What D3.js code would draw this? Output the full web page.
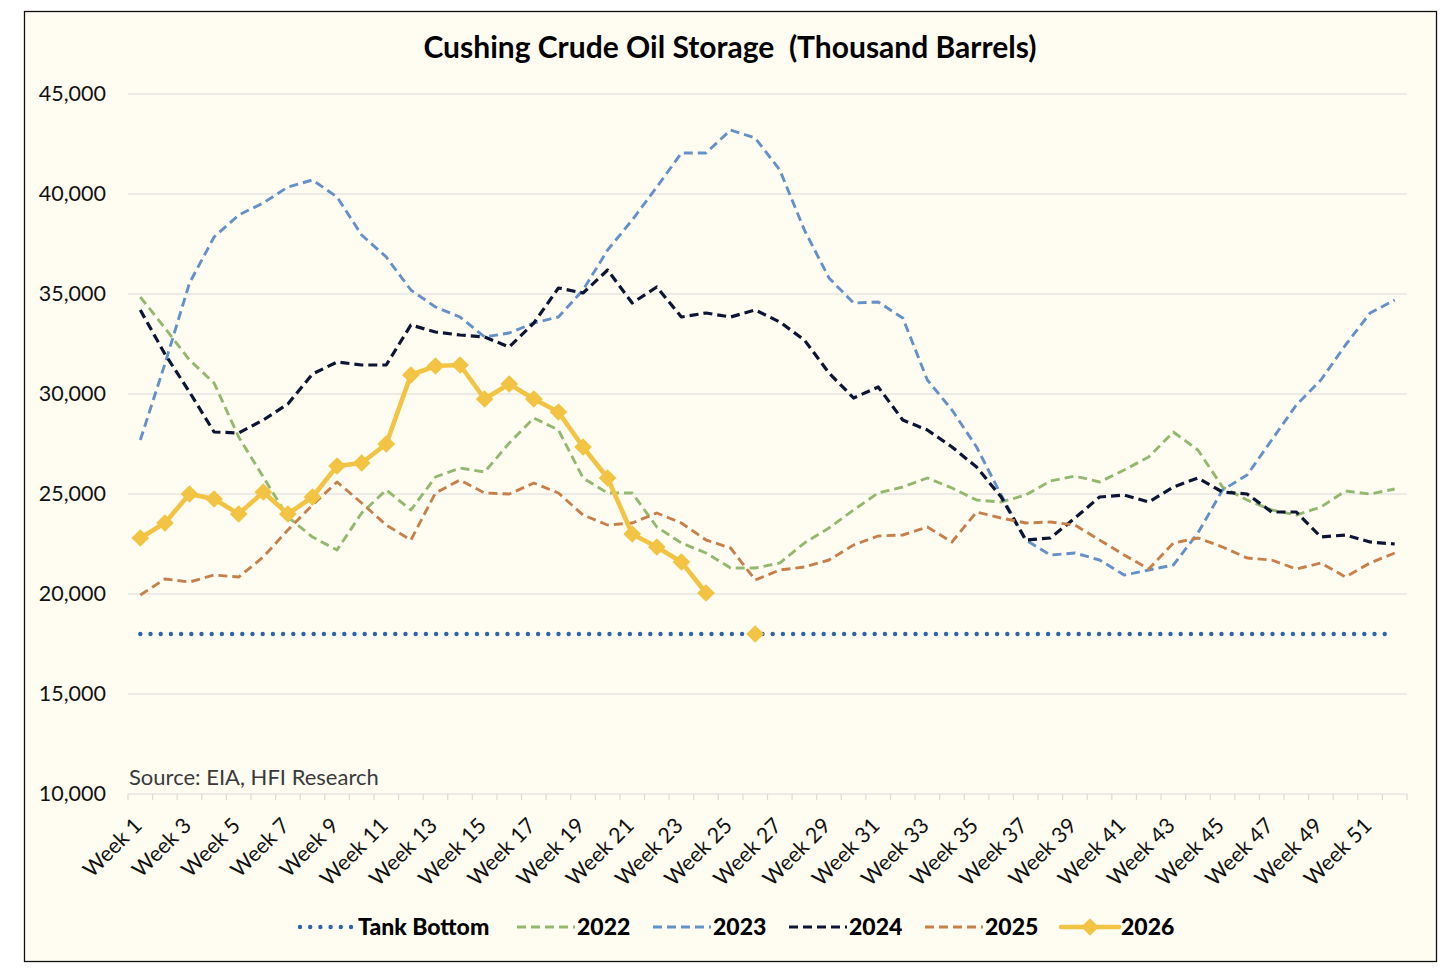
<!DOCTYPE html>
<meta charset="utf-8">
<style>
body { margin: 0; background: #fff; }
text { font-family: Lato, "Open Sans", sans-serif; }
</style>
<svg width="1456" height="978"></svg>
<script src="https://d3js.org/d3.v7.min.js"></script>
<script>

var weeks = d3.range(1, 53).map(function(w){ return "Week " + w; });

var tankBottom = weeks.map(function(){ return 18000; });

var s2022 = [34850, 33300, 31700, 30550, 27850, 25850, 23850, 22850, 22200, 24050,
             25200, 24200, 25850, 26300, 26100, 27550, 28800, 28200, 25800, 25050,
             25050, 23350, 22550, 22050, 21300, 21300, 21550, 22550, 23300, 24200,
             25050, 25350, 25800, 25300, 24700, 24600, 24950, 25650, 25900, 25600,
             26200, 26850, 28100, 27200, 25350, 24700, 24200, 23950, 24350, 25150,
             25000, 25250];

var s2023 = [27700, 31500, 35550, 37850, 38950, 39550, 40350, 40700, 39850, 37950,
             36850, 35200, 34350, 33850, 32850, 33050, 33550, 33850, 35200, 37200,
             38700, 40350, 42050, 42050, 43200, 42800, 41200, 38200, 35800, 34550,
             34600, 33800, 30700, 29200, 27350, 24950, 22700, 21950, 22050, 21700,
             20950, 21200, 21450, 23050, 25200, 25950, 27700, 29450, 30700, 32450,
             34050, 34700];

var s2024 = [34200, 32000, 30100, 28100, 28050, 28700, 29500, 31000, 31600, 31450,
             31450, 33450, 33100, 32950, 32850, 32350, 33550, 35300, 35050, 36200,
             34550, 35350, 33850, 34050, 33850, 34200, 33600, 32700, 31050, 29800,
             30350, 28700, 28200, 27350, 26350, 24850, 22700, 22800, 23800, 24850,
             24950, 24600, 25350, 25800, 25100, 25000, 24100, 24100, 22850, 22950,
             22600, 22500];

var s2025 = [19950, 20750, 20600, 20950, 20850, 21850, 23200, 24450, 25600, 24550,
             23450, 22700, 25050, 25700, 25050, 25000, 25550, 25050, 23950, 23450,
             23550, 24050, 23550, 22700, 22300, 20700, 21200, 21350, 21700, 22450,
             22900, 22950, 23350, 22600, 24100, 23800, 23550, 23600, 23450, 22700,
             21950, 21250, 22550, 22800, 22350, 21800, 21700, 21250, 21550, 20850,
             21550, 22050];

var s2026 = [22800, 23550, 25000, 24750, 24000, 25100, 24000, 24850, 26400, 26550,
             27500, 30950, 31400, 31450, 29750, 30500, 29750, 29100, 27350, 25800,
             23000, 22350, 21600, 20050, null, 18000];

var yTicks = [10000, 15000, 20000, 25000, 30000, 35000, 40000, 45000];

var seriesList = [
  {name: "Tank Bottom", values: tankBottom, color: "#2F64AA", width: 4.4, dash: "0 10.2", cap: "round"},
  {name: "2022", values: s2022, color: "#93B96F", width: 2.9, dash: "9 5", cap: "butt"},
  {name: "2023", values: s2023, color: "#6491C7", width: 2.9, dash: "9 5", cap: "butt"},
  {name: "2024", values: s2024, color: "#0C1634", width: 3.2, dash: "9 5", cap: "butt"},
  {name: "2025", values: s2025, color: "#C8804B", width: 2.9, dash: "9 5", cap: "butt"},
  {name: "2026", values: s2026, color: "#F3C443", width: 4.6, dash: null, cap: "round", marker: true}
];

var svg = d3.select("svg");

// frame
svg.append("rect")
  .attr("x", 24.5).attr("y", 11.5)
  .attr("width", 1412).attr("height", 950)
  .attr("fill", "#FFFDF2")
  .attr("stroke", "#111").attr("stroke-width", 1.3);

var plot = {left: 128, right: 1407, top: 94, bottom: 794};

var x = d3.scaleBand().domain(weeks).range([plot.left, plot.right]).padding(0);
var y = d3.scaleLinear().domain([10000, 45000]).range([plot.bottom, plot.top]);
function cx(i){ return x(weeks[i]) + x.bandwidth() / 2; }

// title
svg.append("text")
  .attr("x", 730).attr("y", 58)
  .attr("text-anchor", "middle")
  .style("font-size", "30px").style("font-weight", "bold")
  .attr("fill", "#000")
  .attr("xml:space", "preserve")
  .text("Cushing Crude Oil Storage  (Thousand Barrels)");

// gridlines
svg.append("g").selectAll("line")
  .data(yTicks.slice(1)).enter().append("line")
  .attr("x1", plot.left).attr("x2", plot.right)
  .attr("y1", function(d){ return y(d); })
  .attr("y2", function(d){ return y(d); })
  .attr("stroke", "#D9D9D9").attr("stroke-width", 1.2);

// y axis labels
var yAxis = d3.axisLeft(y).tickValues(yTicks).tickSize(0).tickPadding(22)
  .tickFormat(d3.format(","));
svg.append("g")
  .attr("transform", "translate(" + plot.left + ",0)")
  .call(yAxis)
  .call(function(g){ g.select(".domain").remove(); })
  .selectAll("text")
  .style("font-size", "21.5px").attr("fill", "#111")
  .style("font-family", "Lato, sans-serif");

// x axis: line, ticks at band edges, labels every other week
var xg = svg.append("g");
xg.append("line")
  .attr("x1", plot.left).attr("x2", plot.right)
  .attr("y1", plot.bottom).attr("y2", plot.bottom)
  .attr("stroke", "#D9D9D9").attr("stroke-width", 1.2);
xg.selectAll("line.tick")
  .data(weeks.concat(["end"])).enter().append("line")
  .attr("class", "tick")
  .attr("x1", function(d, i){ return plot.left + i * x.bandwidth(); })
  .attr("x2", function(d, i){ return plot.left + i * x.bandwidth(); })
  .attr("y1", plot.bottom).attr("y2", plot.bottom + 6)
  .attr("stroke", "#D9D9D9").attr("stroke-width", 1.2);
xg.selectAll("text")
  .data(weeks.filter(function(d, i){ return i % 2 === 0; })).enter().append("text")
  .attr("transform", function(d){
    return "translate(" + (x(d) + x.bandwidth() / 2 + 3) + "," + (plot.bottom + 33) + ") rotate(-45)";
  })
  .attr("text-anchor", "end")
  .style("font-size", "21.5px").attr("fill", "#111")
  .text(function(d){ return d; });

// source note
svg.append("text")
  .attr("x", 129).attr("y", 785)
  .style("font-size", "22px").attr("fill", "#3a3a3a")
  .text("Source: EIA, HFI Research");

// lines
var line = d3.line()
  .defined(function(d){ return d != null; })
  .x(function(d, i){ return cx(i); })
  .y(function(d){ return y(d); });

seriesList.forEach(function(s){
  svg.append("path")
    .datum(s.values)
    .attr("d", line)
    .attr("fill", "none")
    .attr("stroke", s.color)
    .attr("stroke-width", s.width)
    .attr("stroke-dasharray", s.dash)
    .attr("stroke-linecap", s.cap)
    .attr("stroke-linejoin", "round");
  if (s.marker) {
    svg.append("g").selectAll("path")
      .data(s.values.map(function(v, i){ return {v: v, i: i}; }).filter(function(d){ return d.v != null; }))
      .enter().append("path")
      .attr("d", d3.symbol().type(d3.symbolDiamond2).size(200))
      .attr("transform", function(d){ return "translate(" + cx(d.i) + "," + y(d.v) + ")"; })
      .attr("fill", s.color);
  }
});

// legend
var legendX = [298, 517, 653, 789, 925, 1061];
var ly = 927;
var lg = svg.append("g");
seriesList.forEach(function(s, k){
  var g = lg.append("g").attr("transform", "translate(" + legendX[k] + "," + ly + ")");
  g.append("line")
    .attr("x1", s.cap === "round" && !s.marker ? 2 : 0).attr("x2", 58)
    .attr("y1", 0).attr("y2", 0)
    .attr("stroke", s.color)
    .attr("stroke-width", s.width)
    .attr("stroke-dasharray", s.dash)
    .attr("stroke-linecap", s.cap);
  if (s.marker) {
    g.append("path")
      .attr("d", d3.symbol().type(d3.symbolDiamond2).size(200))
      .attr("transform", "translate(29,0)")
      .attr("fill", s.color);
  }
  g.append("text")
    .attr("x", 60).attr("y", 8)
    .style("font-size", "23px").style("font-weight", "900")
    .attr("fill", "#000")
    .text(s.name);
});

</script>
